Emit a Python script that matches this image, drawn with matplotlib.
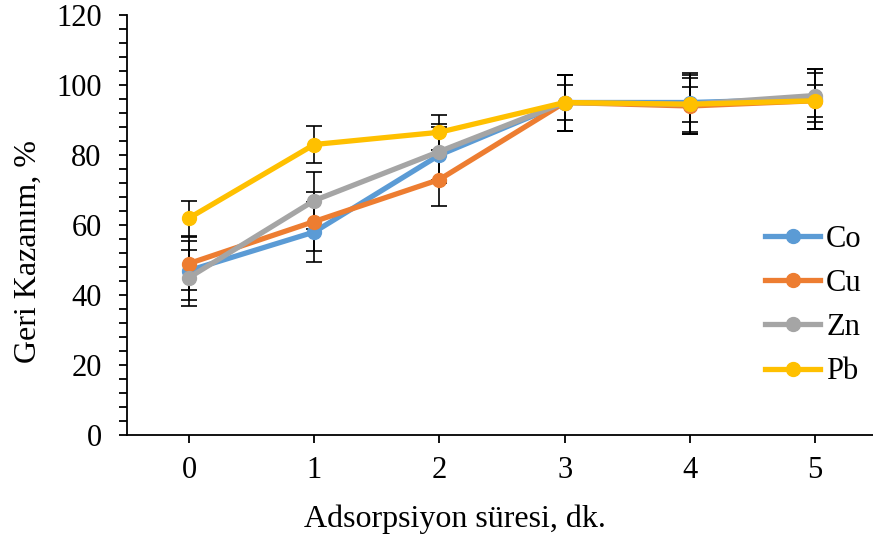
import numpy as np
import matplotlib.pyplot as plt
from matplotlib.ticker import MultipleLocator

plt.rcParams['font.family'] = ['Liberation Serif', 'DejaVu Serif']

## data
sure = [0, 1, 2, 3, 4, 5]
co = [47, 58, 80, 95, 95, 96]
cu = [49, 61, 73, 95, 94, 95.5]
zn = [45, 67, 81, 95, 94.5, 97]
pb = [62, 83, 86.5, 95, 94.5, 95.5]
co_err = [8.5, 8.5, 8, 8, 8.5, 8.5]
cu_err = [7.5, 8.3, 7.7, 8, 8, 8]
zn_err = [8, 8.2, 8, 8, 8.5, 7.5]
pb_err = [5, 5.3, 5, 5, 5, 4.5]

seriler = [('Co', co, co_err, '#5B9BD5'),
           ('Cu', cu, cu_err, '#ED7D31'),
           ('Zn', zn, zn_err, '#A5A5A5'),
           ('Pb', pb, pb_err, '#FFC000')]

fig = plt.figure(figsize=(8.73, 5.37), dpi=100)
ax = fig.add_axes([126.5 / 873, 1 - 435 / 537, (877.6 - 126.5) / 873, 420 / 537])

for i, (ad, y, e, renk) in enumerate(seriler):
    ax.errorbar(sure, y, yerr=e, fmt='none', ecolor='black', elinewidth=1.2,
                capsize=6, capthick=1.2, zorder=2)
for i, (ad, y, e, renk) in enumerate(seriler):
    ax.plot(sure, y, color=renk, lw=3.8, marker='o', ms=10, label=ad, zorder=3 + i)

ax.set_xlim(-0.5, 5.5)
ax.set_ylim(0, 120)
ax.set_xticks(sure)
ax.yaxis.set_major_locator(MultipleLocator(20))
ax.yaxis.set_minor_locator(MultipleLocator(4))
ax.tick_params(axis='both', direction='out', labelsize=22, width=1.3, length=6)
ax.tick_params(axis='x', pad=9)
ax.tick_params(axis='y', pad=12)
ax.tick_params(axis='y', which='minor', direction='out', width=1.3, length=6)
ax.spines['top'].set_visible(False)
ax.spines['right'].set_visible(False)
ax.spines['left'].set_linewidth(1.3)
ax.spines['bottom'].set_linewidth(1.3)

ax.set_xlabel('Adsorpsiyon süresi, dk.', fontsize=23)
ax.set_ylabel('Geri Kazanım, %', fontsize=23)
ax.xaxis.set_label_coords(0.437, -0.165)
ax.yaxis.set_label_coords(-0.112, 0.438)

fig.legend(loc='center left', bbox_to_anchor=(765 / 873, 1 - 305.5 / 537),
           bbox_transform=fig.transFigure, frameon=False, fontsize=22,
           handlelength=1.8, handletextpad=0.2, labelspacing=0.5,
           borderpad=0, borderaxespad=0)

plt.savefig('out.png', dpi=100)
